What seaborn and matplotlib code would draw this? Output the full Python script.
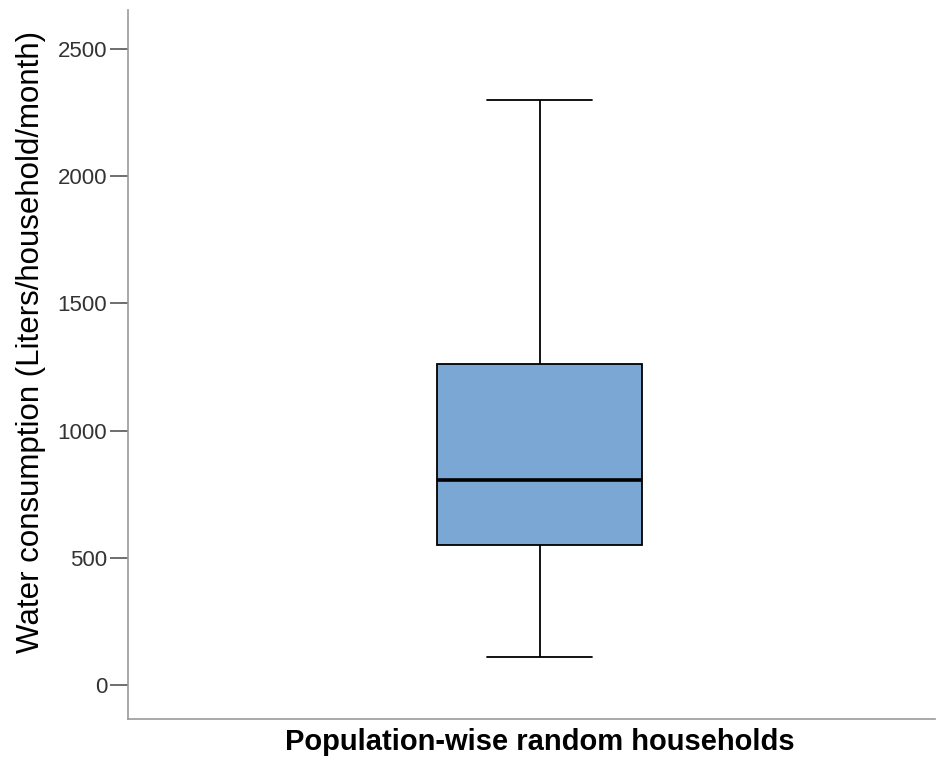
import matplotlib
matplotlib.use("Agg")
import matplotlib.pyplot as plt
import seaborn as sns
import pandas as pd

# summary values (min, Q1, median, Q3, max)
consumption = [110, 550, 805, 1260, 2300]
group = ["Population-wise random households"] * len(consumption)
y_ticks = [0, 500, 1000, 1500, 2000, 2500]

df = pd.DataFrame({"group": group, "consumption": consumption})

sns.set_style("white")
plt.rcParams["font.family"] = ["Liberation Sans", "DejaVu Sans"]

fig = plt.figure(figsize=(9.39, 7.65), dpi=100)
ax = fig.add_axes([0.1363, 0.0601, 0.8594, 0.9269])

sns.boxplot(data=df, x="group", y="consumption", ax=ax, width=0.255,
            whis=1.5, color="#7aa7d4", saturation=1, fill=True,
            linecolor="black", linewidth=1.3,
            medianprops={"linewidth": 2.6, "color": "black"},
            capwidths=0.13)

ax.set_xlim(-0.51, 0.49)
ax.set_ylim(-134, 2653)
ax.set_yticks(y_ticks)
ax.set_xticks([])
ax.tick_params(axis="y", direction="out", length=13, width=1.2, color="#555555",
               labelsize=16, labelcolor="#333333", left=True, pad=2)

for side in ["top", "right"]:
    ax.spines[side].set_visible(False)
for side in ["left", "bottom"]:
    ax.spines[side].set_color("#999999")
    ax.spines[side].set_linewidth(1.2)

ax.set_ylabel("Water consumption (Liters/household/month)", fontsize=22.5, color="black")
ax.yaxis.set_label_coords(-0.102, 0.532)
ax.set_xlabel("Population-wise random households", fontsize=21, fontweight="bold", color="black")
ax.xaxis.set_label_coords(0.51, -0.013)

fig.savefig("out.png", dpi=100)
